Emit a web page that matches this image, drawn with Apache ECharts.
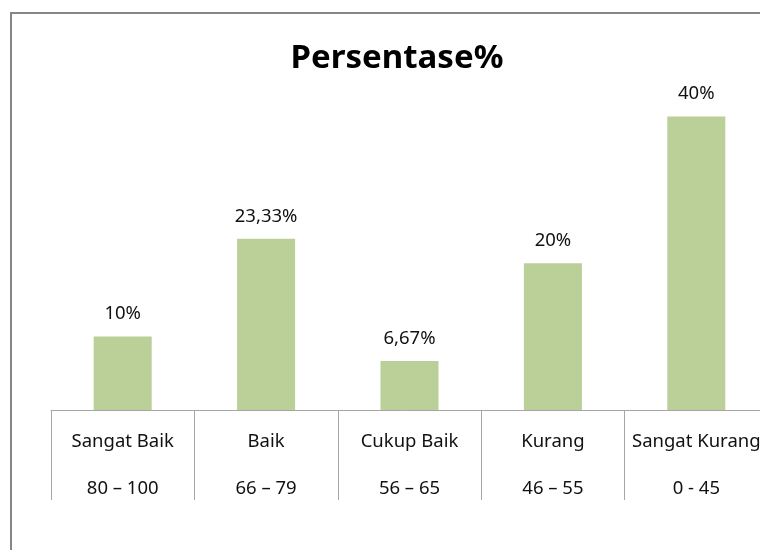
<!DOCTYPE html>
<html>
<head>
<meta charset="utf-8">
<script src="https://cdn.jsdelivr.net/npm/echarts@6/dist/echarts.min.js"></script>
<style>
html, body { margin: 0; padding: 0; background: #fff; }
#container { width: 760px; height: 550px; }
</style>
</head>
<body>
<div id="container"></div>
<script>
// data
var categories = ['Sangat Baik', 'Baik', 'Cukup Baik', 'Kurang', 'Sangat Kurang'];
var ranges = ['80 \u2013 100', '66 \u2013 79', '56 \u2013 65', '46 \u2013 55', '0 - 45'];
var values = [10, 23.33, 6.67, 20, 40];

window.onload = function()
{
var myChart = echarts.init(document.getElementById('container'));
var option = {
    backgroundColor: '#fff',
    animation: false,
    title: {
        text: 'Persentase%',
        left: 392,
        textAlign: 'center',
        top: 37,
        textStyle: {
            fontFamily: 'Noto Sans',
            fontWeight: 'bold',
            fontSize: 33,
            color: '#000'
        }
    },
    graphic: [
        {
            type: 'rect',
            shape: { x: 11, y: 13, width: 800, height: 600 },
            style: { fill: 'none', stroke: '#868686', lineWidth: 2 }
        }
    ],
    grid: {
        left: 51,
        width: 717,
        top: 43,
        bottom: 140,
        containLabel: false,
        outerBoundsMode: 'none'
    },
    xAxis: {
        type: 'category',
        data: categories.map(function (c, i) { return c + '\n' + ranges[i]; }),
        axisLine: { lineStyle: { color: '#A6A6A6', width: 1 } },
        axisTick: {
            show: true,
            length: 90,
            lineStyle: { color: '#A6A6A6' }
        },
        axisLabel: {
            margin: 8,
            lineHeight: 47,
            fontFamily: 'Noto Sans',
            fontSize: 18.5,
            color: '#111',
            interval: 0,
            hideOverlap: false
        }
    },
    yAxis: {
        type: 'value',
        min: 0,
        max: 50,
        show: false,
        splitLine: { show: false }
    },
    series: [
        {
            type: 'bar',
            data: values,
            barWidth: 58,
            itemStyle: { color: '#BBCF98' },
            label: {
                show: true,
                position: 'top',
                distance: 13,
                fontFamily: 'Noto Sans',
                fontSize: 18.5,
                color: '#111',
                formatter: function (p) {
                    return String(p.value).replace('.', ',') + '%';
                }
            }
        }
    ]
};
myChart.setOption(option);
};
</script>
</body>
</html>
